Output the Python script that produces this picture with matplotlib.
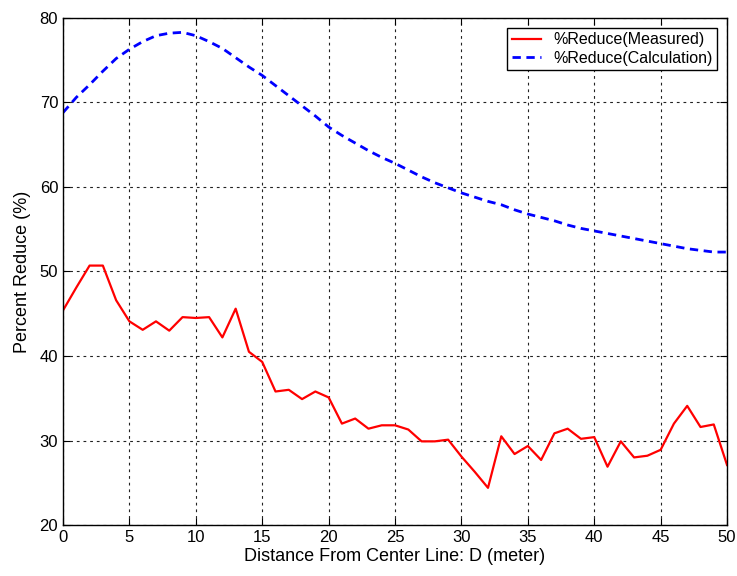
import matplotlib.pyplot as plt
import numpy as np

plt.rcParams['font.family'] = ['Liberation Sans', 'DejaVu Sans']

# distance from center line (m)
distance = np.arange(0, 51)

# measured percent reduction
measured = [45.4, 48.1, 50.7, 50.7, 46.6, 44.1, 43.1, 44.1, 43.0, 44.6,
            44.5, 44.6, 42.2, 45.6, 40.5, 39.3, 35.8, 36.0, 34.9, 35.8,
            35.1, 32.0, 32.6, 31.4, 31.8, 31.8, 31.3, 29.9, 29.9, 30.1,
            28.1, 26.3, 24.4, 30.5, 28.4, 29.35, 27.7, 30.85, 31.4, 30.2,
            30.4, 26.9, 29.9, 28.0, 28.2, 28.9, 32.0, 34.1, 31.6, 31.9,
            27.1]

# calculated percent reduction
calculated = [68.8, 70.6, 72.1, 73.7, 75.2, 76.3, 77.2, 77.9, 78.2, 78.3,
              77.9, 77.2, 76.4, 75.3, 74.2, 73.2, 72.0, 70.8, 69.6, 68.4,
              67.1, 66.1, 65.2, 64.3, 63.5, 62.8, 62.0, 61.2, 60.5, 59.9,
              59.3, 58.8, 58.3, 57.9, 57.3, 56.8, 56.4, 56.0, 55.5, 55.1,
              54.8, 54.5, 54.2, 53.9, 53.6, 53.3, 53.0, 52.7, 52.5, 52.3,
              52.3]

xticks = np.arange(0, 51, 5)
yticks = np.arange(20, 81, 10)

fig = plt.figure(figsize=(7.37, 5.76), dpi=100)
ax = fig.add_axes([0.0855, 0.0885, 0.901, 0.8803])

ax.plot(distance, measured, color='red', lw=1.6, label='%Reduce(Measured)')
ax.plot(distance, calculated, color='blue', lw=2, linestyle=(0, (3, 2)),
        label='%Reduce(Calculation)')

ax.set_xlim(0, 50)
ax.set_ylim(20, 80)
ax.set_xticks(xticks)
ax.set_yticks(yticks)
ax.tick_params(direction='in', top=True, right=True, labelsize=12, length=5)
ax.grid(True, color='#222222', linestyle=(0, (2.5, 3.5)), lw=0.8)
for s in ax.spines.values():
    s.set_linewidth(1)

ax.set_xlabel('Distance From Center Line: D (meter)', fontsize=13, labelpad=2)
ax.set_ylabel('Percent Reduce (%)', fontsize=13, labelpad=6)

leg = ax.legend(loc='upper right', fontsize=11.5, fancybox=False,
                edgecolor='black', framealpha=1, borderaxespad=0.6,
                handlelength=1.8, borderpad=0.3, labelspacing=0.2)
leg.get_frame().set_linewidth(1)

fig.savefig('out.png', dpi=100)
